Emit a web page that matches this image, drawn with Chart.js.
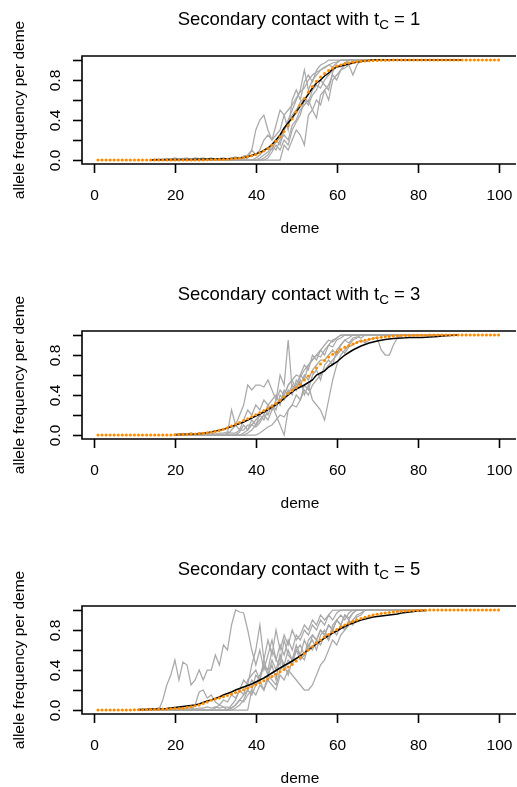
<!DOCTYPE html>
<html>
<head>
<meta charset="utf-8">
<script src="https://cdn.jsdelivr.net/npm/chart.js@4"></script>
<style>
  html, body { margin: 0; padding: 0; background: #fff; }
  #wrap { position: relative; width: 517px; height: 787px; overflow: hidden; }
  canvas { position: absolute; left: 0; }
</style>
</head>
<body>
<div id="wrap">
  <canvas id="c1" width="517" height="237" style="top:0px"></canvas>
  <canvas id="c2" width="517" height="237" style="top:275px"></canvas>
  <canvas id="c3" width="517" height="237" style="top:550px"></canvas>
</div>
<script>
const demes = Array.from({ length: 100 }, (_, i) => i + 1);
const xTicks = [0, 20, 40, 60, 80, 100];
const yTicks = [0, 0.2, 0.4, 0.6, 0.8, 1.0];
const yTickLabels = ['0.0', '', '0.4', '', '0.8', ''];
const contactTimes = [1, 3, 5];
// demes over which the replicate and mean lines are drawn in each panel
const lineSpans = [[14, 91], [20, 90], [11, 82]];

// values, listed from deme `first` on;
// before that the frequency is 0, after the list it is 1
function cline(first, vals) {
  return demes.map(d => d < first ? 0 : (d - first < vals.length ? vals[d - first] : 1));
}

// ---- panel 1 : tC = 1
const p1Expected = cline(26, [0.001,0.001,0.002,0.003,0.004,0.005,0.006,0.008,0.011,0.014,
  0.018,0.024,0.032,0.042,0.054,0.070,0.091,0.116,0.148,0.187,0.233,0.286,0.346,0.411,0.479,
  0.548,0.616,0.679,0.736,0.787,0.830,0.866,0.895,0.918,0.937,0.951,0.963,0.971,0.978,0.983,
  0.987,0.990,0.993,0.994,0.996,0.997,0.998,0.998,0.999,0.999]);
const p1Mean = cline(15, [0.002,0.002,0.003,0.003,0.004,0.004,0.005,0.005,0.006,0.006,0.007,
  0.007,0.008,0.009,0.009,0.010,0.011,0.012,0.013,0.015,0.017,0.020,0.025,0.032,0.045,0.060,
  0.075,0.095,0.120,0.155,0.200,0.250,0.320,0.370,0.420,0.480,0.540,0.600,0.660,0.720,0.770,
  0.800,0.840,0.870,0.910,0.930,0.940,0.950,0.960,0.970,0.980,0.985,0.990,0.995]);
const p1Reps = [
  cline(38, [0.02,0.1,0.3,0.4,0.45,0.3,0.2,0.25,0.3,0.45,0.5,0.55,0.62,0.68,0.72,0.8,0.85,0.88,0.9,0.93,0.95,0.97,0.98]),
  cline(47, [0.15,0.1,0.2,0.3,0.25,0.15,0.45,0.5,0.6,0.55,0.7,0.75,0.85,0.8,0.9,0.95]),
  cline(40, [0.02,0.05,0.1,0.12,0.1,0.2,0.15,0.3,0.4,0.5,0.6,0.7,0.9,0.7,0.8,0.85,0.9,0.92,0.95,0.93,0.97]),
  cline(41, [0.02,0.05,0.08,0.15,0.1,0.2,0.25,0.2,0.35,0.4,0.5,0.55,0.6,0.5,0.42,0.65,0.7,0.6,0.8,0.85,0.9,0.92,0.95]),
  cline(42, [0.02,0.05,0.12,0.18,0.22,0.3,0.38,0.45,0.5,0.58,0.62,0.58,0.7,0.75,0.72,0.8,0.85,0.9,0.93,0.95,0.97,0.95,0.85,0.95]),
  cline(43, [0.02,0.08,0.15,0.1,0.2,0.15,0.3,0.38,0.45,0.6,0.55,0.65,0.7,0.8,0.75,0.7,0.88,0.95,0.93,0.97]),
  cline(15, [0.01,0.01,0.01,0.015,0.01,0.02,0.01,0.015,0.02,0.01,0.02,0.015,0.02,0.01,0.02,0.01,
    0.015,0.02,0.01,0.02,0.03,0.02,0.04,0.05,0.1,0.05,0.1,0.2,0.25,0.2,0.35,0.5,0.45,0.3,0.6,0.7,
    0.6,0.78,0.85,0.78,0.9,0.95,0.97])
];

// ---- panel 2 : tC = 3
const p2Expected = cline(20, [0.003,0.004,0.005,0.007,0.009,0.011,0.014,0.018,0.022,0.027,
  0.035,0.045,0.057,0.072,0.090,0.108,0.125,0.145,0.163,0.183,0.203,0.223,0.243,0.265,0.287,
  0.315,0.345,0.380,0.415,0.445,0.475,0.505,0.550,0.590,0.630,0.670,0.710,0.745,0.780,0.807,
  0.830,0.855,0.877,0.895,0.910,0.925,0.937,0.948,0.957,0.965,0.972,0.977,0.982,0.986,0.989,
  0.992,0.994,0.995,0.996,0.997,0.998,0.998,0.998,0.999,0.999]);
const p2Mean = cline(20, [0.003,0.004,0.005,0.007,0.008,0.010,0.013,0.017,0.022,0.030,
  0.040,0.048,0.058,0.070,0.085,0.100,0.115,0.130,0.150,0.170,0.190,0.210,0.230,0.255,0.280,
  0.305,0.330,0.365,0.400,0.430,0.460,0.480,0.500,0.525,0.550,0.600,0.620,0.640,0.680,0.705,
  0.730,0.765,0.800,0.825,0.850,0.870,0.890,0.905,0.920,0.930,0.940,0.948,0.955,0.960,0.965,
  0.968,0.970,0.972,0.975,0.975,0.975,0.976,0.978,0.980,0.982,0.985,0.990,0.993,0.996,0.998]);
const p2Reps = [
  cline(33, [0.02,0.25,0.1,0.2,0.3,0.5,0.45,0.5,0.5,0.48,0.55,0.45,0.35,0.6,0.5,0.95,0.45,0.5,0.6,0.55,0.7,0.75,0.8,0.85,0.8,0.9,0.95,0.97]),
  cline(36, [0.03,0.1,0.05,0.15,0.1,0.2,0.15,0.25,0.3,0.2,0.1,0,0.25,0.3,0.4,0.35,0.5,0.45,0.6,0.65,0.55,0.7,0.75,0.7,0.85,0.9,0.95,0.97]),
  cline(38, [0.02,0.05,0.1,0.15,0.2,0.3,0.35,0.4,0.3,0.45,0.4,0.5,0.45,0.55,0.4,0.5,0.35,0.3,0.25,0.15,0.35,0.55,0.7,0.8,0.85,0.9,0.95,0.97]),
  cline(34, [0.05,0.1,0.05,0.15,0.25,0.2,0.3,0.25,0.35,0.3,0.25,0.3,0.35,0.4,0.5,0.55,0.6,0.58,0.65,0.7,0.75,0.8,0.78,0.85,0.9,0.88,0.95,0.97]),
  cline(40, [0,0.02,0.05,0.08,0.1,0.15,0.2,0.18,0.25,0.3,0.28,0.35,0.45,0.4,0.5,0.55,0.6,0.65,0.7,0.75,0.8,0.85,0.82,0.88,0.9,0.93,0.95,0.92,0.95,0.97,0.97,0.85,0.8,0.8,0.9,0.97]),
  cline(37, [0.02,0.05,0.1,0.08,0.12,0.2,0.15,0.25,0.35,0.45,0.4,0.5,0.55,0.45,0.6,0.7,0.65,0.8,0.75,0.85,0.9,0.95,0.93,0.97]),
  cline(20, [0.01,0.01,0.015,0.01,0.02,0.01,0.02,0.015,0.02,0.02,0.01,0.02,0.02,0.03,0.02,0.02,
    0.05,0.05,0.1,0.1,0.15,0.2,0.25,0.2,0.3,0.25,0.4,0.35,0.45,0.4,0.55,0.5,0.6,0.55,0.65,0.7,
    0.75,0.75,0.8,0.85,0.8,0.9,0.95,0.92,0.97,0.98,0.97])
];

// ---- panel 3 : tC = 5
const p3Expected = cline(10, [0.002,0.002,0.003,0.004,0.005,0.006,0.008,0.009,0.011,0.013,
  0.015,0.016,0.018,0.025,0.033,0.042,0.050,0.065,0.080,0.097,0.110,0.120,0.133,0.146,0.160,
  0.174,0.188,0.203,0.218,0.233,0.252,0.272,0.292,0.313,0.335,0.358,0.382,0.406,0.430,0.455,
  0.490,0.525,0.565,0.600,0.635,0.670,0.700,0.730,0.755,0.780,0.805,0.830,0.850,0.868,0.885,
  0.900,0.915,0.928,0.940,0.950,0.958,0.965,0.971,0.976,0.980,0.984,0.987,0.990,0.992,0.994,
  0.996,0.997,0.998,0.999]);
const p3Mean = cline(10, [0.003,0.004,0.005,0.006,0.008,0.010,0.011,0.012,0.015,0.020,
  0.025,0.030,0.035,0.040,0.045,0.050,0.060,0.075,0.090,0.100,0.115,0.130,0.150,0.165,0.180,
  0.200,0.215,0.230,0.245,0.260,0.280,0.300,0.320,0.345,0.370,0.395,0.420,0.445,0.465,0.490,
  0.515,0.540,0.570,0.600,0.630,0.660,0.690,0.720,0.745,0.770,0.790,0.815,0.835,0.855,0.870,
  0.885,0.900,0.910,0.920,0.930,0.935,0.940,0.945,0.950,0.955,0.960,0.970,0.975,0.980,0.985,
  0.990,0.993,0.996,0.998]);
const p3Reps = [
  cline(16, [0,0.1,0.25,0.35,0.5,0.3,0.48,0.45,0.25,0.3,0.4,0.3,0.4,0.4,0.55,0.45,0.65,0.6,0.85,1.0,0.98,0.97,
    0.8,0.6,0.45,0.6,0.4,0.55,0.7,0.5,0.65,0.55,0.7,0.6,0.75,0.7,0.8,0.75,0.85,0.8,0.9,0.85,0.95,0.9,0.97]),
  cline(25, [0.05,0.18,0.2,0.12,0.15,0.08,0.05,0.03,0,0.05,0.1,0.2,0.15,0.3,0.35,0.4,0.3,0.45,0.35,0.5,0.4,
    0.55,0.45,0.6,0.5,0.65,0.55,0.7,0.6,0.75,0.7,0.8,0.75,0.85,0.8,0.9,0.95,0.9,0.97]),
  cline(38, [0,0.2,0.35,0.3,0.5,0.35,0.45,0.3,0.55,0.4,0.5,0.45,0.6,0.5,0.55,0.65,0.6,0.7,0.65,0.75,0.7,0.8,
    0.75,0.85,0.8,0.9,0.85,0.93,0.95]),
  cline(30, [0.02,0.05,0.1,0.08,0.15,0.12,0.2,0.3,0.25,0.45,0.6,0.85,0.5,0.7,0.55,0.8,0.6,0.75,0.65,0.8,0.7,
    0.75,0.85,0.8,0.9,0.85,0.95,0.9,0.95]),
  cline(34, [0.02,0.05,0.1,0.08,0.15,0.2,0.15,0.25,0.2,0.3,0.25,0.2,0.35,0.3,0.4,0.35,0.3,0.25,0.2,0.2,0.25,
    0.35,0.45,0.5,0.6,0.7,0.65,0.75,0.8,0.85,0.9,0.95,0.97]),
  cline(35, [0.02,0.05,0.1,0.2,0.3,0.25,0.35,0.45,0.4,0.6,0.5,0.45,0.7,0.55,0.5,0.6,0.65,0.55,0.7,0.75,0.7,
    0.8,0.75,0.85,0.8,0.9,0.85,0.95,0.92,0.97]),
  cline(11, [0.005,0.01,0.01,0.015,0.01,0.02,0.01,0.015,0.02,0.01,0.02,0.015,0.02,0.02,0.01,0.02,0.02,0.03,
    0.02,0.03,0.02,0.03,0.03,0.02,0.05,0.1,0.15,0.2,0.15,0.25,0.3,0.2,0.35,0.3,0.25,0.4,0.45,0.35,0.5,
    0.6,0.55,0.5,0.65,0.7,0.6,0.75,0.8,0.7,0.85,0.9,0.85,0.95,0.9,0.97])
];

function toPoints(values, span) {
  return demes.map((d, i) => ({
    x: d,
    y: (!span || (d >= span[0] && d <= span[1])) ? values[i] : null
  }));
}

// R-style frame, ticks and texts drawn around the plot region
function rFrame(tc) {
  return {
    id: 'rFrame',
    afterDraw(chart) {
      const ctx = chart.ctx;
      const a = chart.chartArea;
      const xs = chart.scales.x, ys = chart.scales.y;
      ctx.save();
      ctx.strokeStyle = '#000';
      ctx.lineWidth = 1.6;
      ctx.beginPath();
      ctx.moveTo(a.right + 3, a.top);
      ctx.lineTo(a.left, a.top);
      ctx.lineTo(a.left, a.bottom);
      ctx.lineTo(a.right + 3, a.bottom);
      ctx.stroke();

      ctx.fillStyle = '#000';
      ctx.font = '15.5px "Liberation Sans", Arial, sans-serif';
      ctx.textAlign = 'center';
      ctx.textBaseline = 'alphabetic';
      xTicks.forEach(v => {
        const px = Math.round(xs.getPixelForValue(v)) + 0.5;
        ctx.beginPath();
        ctx.moveTo(px, a.bottom);
        ctx.lineTo(px, a.bottom + 9);
        ctx.stroke();
        ctx.fillText(String(v), px, a.bottom + 36);
      });
      yTicks.forEach((v, i) => {
        const py = Math.round(ys.getPixelForValue(v)) + 0.5;
        ctx.beginPath();
        ctx.moveTo(a.left, py);
        ctx.lineTo(a.left - 9, py);
        ctx.stroke();
        if (yTickLabels[i]) {
          ctx.save();
          ctx.translate(a.left - 22, py);
          ctx.rotate(-Math.PI / 2);
          ctx.fillText(yTickLabels[i], 0, 0);
          ctx.restore();
        }
      });

      // axis titles
      ctx.fillText('deme', 300, a.bottom + 69);
      ctx.save();
      ctx.translate(24, (a.top + a.bottom) / 2);
      ctx.rotate(-Math.PI / 2);
      ctx.fillText('allele frequency per deme', 0, 0);
      ctx.restore();

      // main title with subscript
      const big = '18.5px "Liberation Sans", Arial, sans-serif';
      const small = '13.5px "Liberation Sans", Arial, sans-serif';
      const t1 = 'Secondary contact with t', t2 = 'C', t3 = ' = ' + tc;
      ctx.font = big; const w1 = ctx.measureText(t1).width, w3 = ctx.measureText(t3).width;
      ctx.font = small; const w2 = ctx.measureText(t2).width;
      let x0 = 299 - (w1 + w2 + w3) / 2;
      ctx.textAlign = 'left';
      ctx.font = big; ctx.fillText(t1, x0, 25);
      ctx.font = small; ctx.fillText(t2, x0 + w1, 29);
      ctx.font = big; ctx.fillText(t3, x0 + w1 + w2, 25);
      ctx.restore();
    }
  };
}

function makePanel(id, tc, expected, mean, reps, span) {
  const datasets = [
    { data: toPoints(expected), showLine: true, borderWidth: 1, borderColor: 'rgba(255,165,0,0.35)',
      pointRadius: 1.5, pointBorderWidth: 0, pointBackgroundColor: '#ff8c00' },
    { data: toPoints(mean, span), borderColor: '#000000', borderWidth: 1.5, pointRadius: 0, spanGaps: false }
  ];
  reps.forEach(r => datasets.push({ data: toPoints(r, span), borderColor: '#a9a9a9', borderWidth: 1.25, pointRadius: 0 }));

  new Chart(document.getElementById(id), {
    type: 'line',
    data: { datasets: datasets },
    options: {
      responsive: false,
      animation: false,
      events: [],
      layout: { padding: { left: 82, right: 0, top: 56, bottom: 73 } },
      scales: {
        x: { type: 'linear', min: -2.96, max: 103.57, display: false },
        y: { type: 'linear', min: -0.04, max: 1.04, display: false }
      },
      plugins: { legend: { display: false }, tooltip: { enabled: false } }
    },
    plugins: [rFrame(tc)]
  });
}

makePanel('c1', contactTimes[0], p1Expected, p1Mean, p1Reps, lineSpans[0]);
makePanel('c2', contactTimes[1], p2Expected, p2Mean, p2Reps, lineSpans[1]);
makePanel('c3', contactTimes[2], p3Expected, p3Mean, p3Reps, lineSpans[2]);
</script>
</body>
</html>
